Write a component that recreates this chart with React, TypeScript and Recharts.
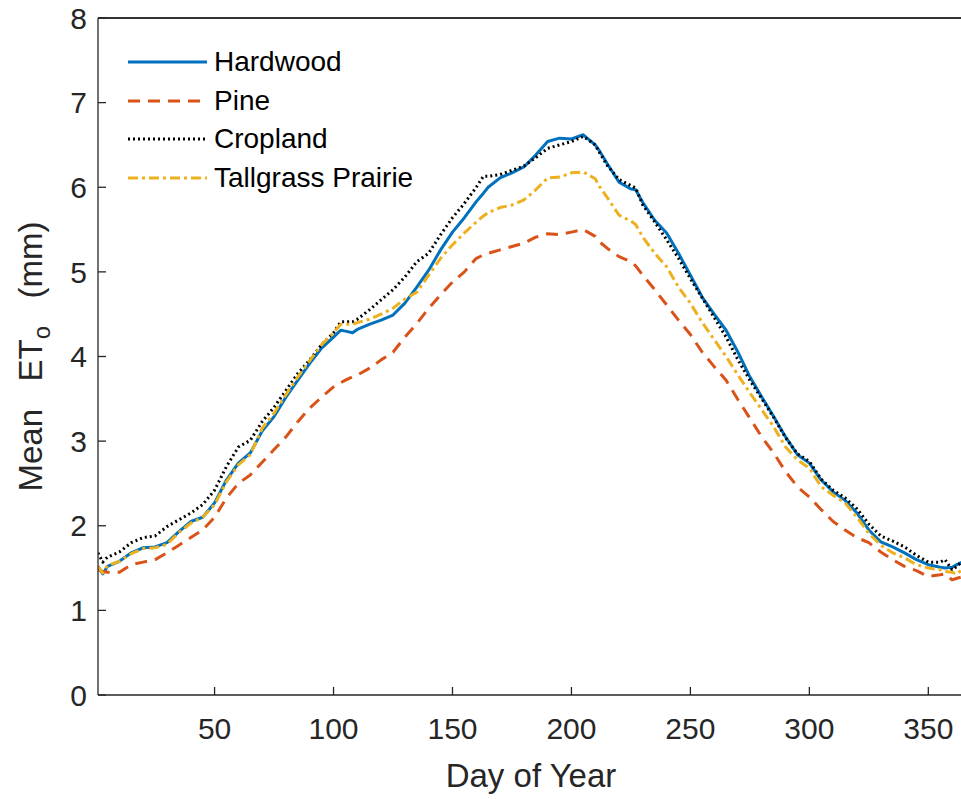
import { LineChart, Line, XAxis, YAxis, Label, ReferenceLine } from "recharts";

// day-of-year samples, values (mm)
const days = [
  1, 3, 5, 10, 15, 20, 25, 30, 35, 40, 45, 50, 55, 60, 65, 70, 75, 80, 85, 90, 95, 100,
  103, 105, 108, 110, 115, 120, 125, 130, 135, 140, 145, 150, 155, 160, 163, 165,
  170, 175, 180, 185, 190, 195, 200, 205, 210, 212, 215, 220, 225, 227,
  230, 235, 240, 245, 250, 255, 260, 265, 270, 275, 280, 285, 290, 295, 300, 305,
  310, 315, 320, 325, 330, 335, 340, 345, 350, 355, 357, 360, 362, 365,
];

const hardwood = [
  1.52, 1.43, 1.52, 1.58, 1.68, 1.74, 1.75, 1.8, 1.93, 2.05, 2.1, 2.27, 2.54, 2.74, 2.86, 3.12, 3.29, 3.52, 3.72, 3.92, 4.1, 4.23,
  4.31, 4.3, 4.28, 4.32, 4.38, 4.43, 4.49, 4.63, 4.82, 5.02, 5.26, 5.47, 5.64, 5.83, 5.93, 6.0,
  6.11, 6.17, 6.24, 6.38, 6.54, 6.58, 6.57, 6.62, 6.5, 6.42, 6.28, 6.06, 5.98, 5.97,
  5.82, 5.61, 5.46, 5.22, 4.96, 4.7, 4.5, 4.31, 4.05, 3.76, 3.52, 3.29, 3.05, 2.84, 2.74, 2.54,
  2.4, 2.3, 2.15, 1.95, 1.81, 1.75, 1.68, 1.6, 1.54, 1.51, 1.5, 1.51, 1.54, 1.58,
];

const pine = [
  1.48, 1.46, 1.45, 1.45, 1.54, 1.57, 1.6, 1.68, 1.77, 1.86, 1.95, 2.1, 2.33, 2.5, 2.6, 2.75, 2.9, 3.05, 3.23, 3.39, 3.52, 3.64,
  3.69, 3.72, 3.76, 3.78, 3.86, 3.96, 4.05, 4.23, 4.39, 4.57, 4.73, 4.88, 5.0, 5.16, 5.2, 5.22,
  5.26, 5.3, 5.34, 5.41, 5.45, 5.44, 5.47, 5.5, 5.42, 5.35, 5.28, 5.18, 5.12, 5.07,
  4.96, 4.79, 4.61, 4.43, 4.26, 4.05, 3.88, 3.72, 3.49, 3.27, 3.05, 2.86, 2.64, 2.46, 2.34, 2.19,
  2.05, 1.95, 1.86, 1.8, 1.69, 1.6, 1.52, 1.47, 1.4, 1.42, 1.43, 1.36, 1.38, 1.4,
];

const cropland = [
  1.68, 1.57, 1.63, 1.69, 1.8, 1.86, 1.88, 1.99, 2.07, 2.15, 2.25, 2.42, 2.7, 2.93, 3.01, 3.23, 3.4, 3.6, 3.8, 3.96, 4.14, 4.28,
  4.41, 4.41, 4.41, 4.44, 4.55, 4.67, 4.79, 4.94, 5.12, 5.22, 5.44, 5.64, 5.81, 6.0, 6.13, 6.13,
  6.15, 6.2, 6.25, 6.35, 6.46, 6.5, 6.54, 6.6, 6.5, 6.4, 6.26, 6.09, 6.02, 5.99,
  5.79, 5.59, 5.38, 5.16, 4.92, 4.69, 4.46, 4.23, 3.96, 3.72, 3.5, 3.28, 3.04, 2.85, 2.76, 2.55,
  2.42, 2.33, 2.2, 2.02, 1.88, 1.82, 1.75, 1.65, 1.57, 1.57, 1.6, 1.48, 1.52, 1.6,
];

const tallgrass = [
  1.52, 1.44, 1.53, 1.58, 1.67, 1.73, 1.74, 1.78, 1.92, 2.03, 2.1, 2.25, 2.52, 2.72, 2.84, 3.15, 3.33, 3.55, 3.76, 3.95, 4.14, 4.28,
  4.38, 4.38, 4.38, 4.4, 4.44, 4.5, 4.57, 4.68, 4.76, 4.96, 5.16, 5.32, 5.46, 5.59, 5.66, 5.7,
  5.76, 5.79, 5.85, 5.97, 6.11, 6.12, 6.17, 6.18, 6.1, 6.0, 5.88, 5.67, 5.6, 5.56,
  5.41, 5.22, 5.06, 4.82, 4.63, 4.4, 4.2, 4.0, 3.78, 3.57, 3.37, 3.17, 2.93, 2.78, 2.68, 2.46,
  2.36, 2.27, 2.1, 1.91, 1.77, 1.68, 1.62, 1.54, 1.5, 1.48, 1.46, 1.45, 1.43, 1.5,
];

const xTicks = [50, 100, 150, 200, 250, 300, 350];
const yTicks = [0, 1, 2, 3, 4, 5, 6, 7, 8];
const Y_MAX = 8;

const series = [
  { key: "hardwood", name: "Hardwood", color: "#0072BD", dash: undefined as string | undefined },
  { key: "pine", name: "Pine", color: "#D95319", dash: "12 8" },
  { key: "cropland", name: "Cropland", color: "#000000", dash: "2 3" },
  { key: "tallgrass", name: "Tallgrass Prairie", color: "#EDB120", dash: "10 4 3 4" },
];

const rows = days.map((day, i) => ({
  day,
  hardwood: hardwood[i],
  pine: pine[i],
  cropland: cropland[i],
  tallgrass: tallgrass[i],
}));

const FONT = '"Liberation Sans", Arial, Helvetica, sans-serif';
const AXIS = "#262626";
const TICK_LEN = 8;
const axisLineStyle = { stroke: AXIS, strokeWidth: 1.3 };

// ticks point inward (negative tickSize); margins push the labels back out
function BottomTick({ x, y, payload }: any) {
  return (
    <text x={x} y={y} dy="0.71em" textAnchor="middle" fontSize={30} fill={AXIS} fontFamily={FONT}>
      {payload.value}
    </text>
  );
}

function LeftTick({ x, y, payload }: any) {
  return (
    <text x={x} y={y} dy="0.355em" textAnchor="end" fontSize={30} fill={AXIS} fontFamily={FONT}>
      {payload.value}
    </text>
  );
}

function XTitle({ viewBox }: any) {
  return (
    <text
      x={viewBox.x + viewBox.width / 2}
      y={viewBox.y + viewBox.height - 12}
      textAnchor="middle"
      fontSize={33}
      fill={AXIS}
      fontFamily={FONT}
    >
      Day of Year
    </text>
  );
}

function YTitle({ viewBox }: any) {
  const bx = 42;
  const cy = viewBox.y + viewBox.height / 2;
  return (
    <text
      transform={`rotate(-90, ${bx}, ${cy})`}
      x={bx}
      y={cy}
      textAnchor="middle"
      fontSize={33}
      fill={AXIS}
      fontFamily={FONT}
      xmlSpace="preserve"
      style={{ whiteSpace: "pre" }}
    >
      {"Mean   ET"}
      <tspan fontSize={24} dy={8}>o</tspan>
      <tspan dy={-8}>{"   (mm)"}</tspan>
    </text>
  );
}

function LegendBox() {
  return (
    <div style={{ position: "absolute", left: 128, top: 43, fontFamily: FONT, pointerEvents: "none" }}>
      {series.map((s) => (
        <div key={s.key} style={{ display: "flex", alignItems: "center", height: 38.5 }}>
          <svg width={79} height={8} style={{ display: "block" }}>
            <line x1={0} x2={79} y1={4} y2={4} stroke={s.color} strokeWidth={3} strokeDasharray={s.dash} />
          </svg>
          <span style={{ marginLeft: 7, fontSize: 28, lineHeight: 1, color: "#000" }}>{s.name}</span>
        </div>
      ))}
    </div>
  );
}

export default function App() {
  return (
    <div style={{ position: "absolute", left: 0, top: 0, width: 961, height: 799, overflow: "hidden", background: "#fff" }}>
      <LineChart width={967} height={799} data={rows} margin={{ top: 17, right: 3, bottom: 0, left: 0 }}>
        <XAxis
          dataKey="day"
          type="number"
          domain={[1, 365]}
          ticks={xTicks}
          interval={0}
          allowDataOverflow
          height={104}
          stroke={AXIS}
          tickSize={-TICK_LEN}
          tickMargin={23 + TICK_LEN}
          tickLine={axisLineStyle}
          tick={BottomTick}
          axisLine={axisLineStyle}
        >
          <Label content={XTitle} />
        </XAxis>
        <XAxis
          xAxisId="top"
          orientation="top"
          dataKey="day"
          type="number"
          domain={[1, 365]}
          ticks={xTicks}
          interval={0}
          allowDataOverflow
          height={1}
          stroke={AXIS}
          tickSize={-TICK_LEN}
          tickMargin={0}
          tickLine={axisLineStyle}
          tick={false}
          axisLine={axisLineStyle}
        />
        <YAxis
          type="number"
          domain={[0, Y_MAX]}
          ticks={yTicks}
          interval={0}
          allowDataOverflow
          width={98}
          stroke={AXIS}
          tickSize={-TICK_LEN}
          tickMargin={11 + TICK_LEN}
          tickLine={axisLineStyle}
          tick={LeftTick}
          axisLine={axisLineStyle}
        >
          <Label content={YTitle} />
        </YAxis>
        <ReferenceLine y={Y_MAX} stroke={AXIS} strokeWidth={1.3} ifOverflow="visible" />
        {series.map((s, i) => (
          <Line
            key={s.key}
            xAxisId={i === 0 ? "top" : 0}
            type="linear"
            dataKey={s.key}
            name={s.name}
            stroke={s.color}
            strokeWidth={3}
            strokeDasharray={s.dash}
            strokeLinejoin="round"
            dot={false}
            activeDot={false}
            isAnimationActive={false}
          />
        ))}
      </LineChart>
      <LegendBox />
    </div>
  );
}
